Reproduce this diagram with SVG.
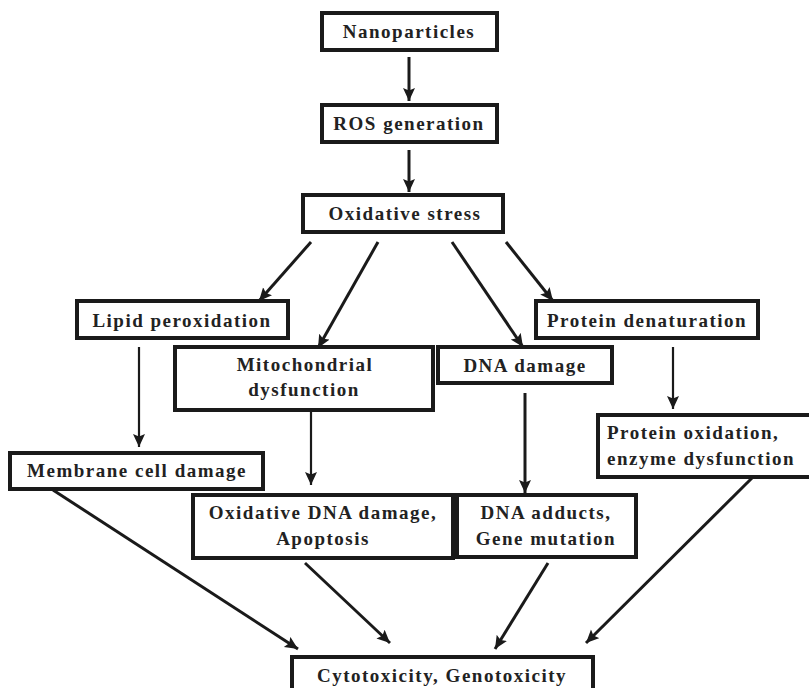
<svg xmlns="http://www.w3.org/2000/svg" width="809" height="688" viewBox="0 0 809 688">
<style>
.box{fill:#fff;stroke:#1a1a1a;stroke-width:4}
.t{font-family:"Liberation Serif","Times New Roman",serif;font-weight:bold;font-size:19px;letter-spacing:1.5px;fill:#222}
.c{text-anchor:middle}
.a{stroke:#1a1a1a;stroke-width:3;fill:none;marker-end:url(#ah)}
.v{stroke:#1a1a1a;stroke-width:2.2;fill:none;marker-end:url(#ah)}
</style>
<defs>
<marker id="ah" markerUnits="userSpaceOnUse" markerWidth="14" markerHeight="13" refX="13" refY="6" orient="auto">
<path d="M0,0 L13,6 L0,12 L2.5,6 z" fill="#1a1a1a"/>
</marker>
</defs>
<rect width="809" height="688" fill="#fff"/>
<g id="connectors">
<line class="a" x1="409" y1="57" x2="409" y2="101"/>
<line class="a" x1="409" y1="150" x2="409" y2="192"/>
<line class="a" x1="311" y1="242" x2="259" y2="301"/>
<line class="a" x1="378" y1="242" x2="318" y2="348"/>
<line class="a" x1="452" y1="242" x2="523" y2="347"/>
<line class="a" x1="506" y1="242" x2="553" y2="301"/>
<line class="v" x1="139" y1="347" x2="139" y2="447"/>
<line class="v" x1="673" y1="347" x2="673" y2="409"/>
<line class="v" x1="311" y1="397" x2="311" y2="485"/>
<line class="a" x1="525" y1="393" x2="525" y2="493"/>
<line class="a" x1="53" y1="490" x2="298" y2="649"/>
<line class="a" x1="305" y1="563" x2="390" y2="643"/>
<line class="a" x1="548" y1="563" x2="495" y2="649"/>
<line class="a" x1="752" y1="478" x2="586" y2="643"/>
</g>
<g id="nanoparticles"><rect class="box" x="322" y="13" width="175" height="37"/><text class="t c" x="409" y="38">Nanoparticles</text></g>
<g id="ros"><rect class="box" x="322" y="105" width="175" height="37"/><text class="t c" x="409" y="130">ROS generation</text></g>
<g id="oxidative"><rect class="box" x="303" y="195" width="200" height="37"/><text class="t c" x="405" y="220">Oxidative stress</text></g>
<g id="lipid"><rect class="box" x="77" y="301" width="211" height="37"/><text class="t c" x="182" y="327">Lipid peroxidation</text></g>
<g id="mito"><rect class="box" x="175" y="347" width="258" height="63"/><text class="t c" x="305" y="371">Mitochondrial</text><text class="t c" x="304" y="396">dysfunction</text></g>
<g id="dnadamage"><rect class="box" x="438" y="347" width="174" height="36"/><text class="t c" x="525" y="372">DNA damage</text></g>
<g id="proteinden"><rect class="box" x="536" y="301" width="222" height="37"/><text class="t c" x="647" y="327">Protein denaturation</text></g>
<g id="membrane"><rect class="box" x="10" y="453" width="253" height="36"/><text class="t c" x="137" y="477">Membrane cell damage</text></g>
<g id="proteinox"><rect class="box" x="598" y="415" width="215" height="62"/><text class="t" x="607" y="439">Protein oxidation,</text><text class="t" x="607" y="465">enzyme dysfunction</text></g>
<g id="oxdna"><rect class="box" x="193" y="495" width="260" height="63"/><text class="t c" x="323" y="519">Oxidative DNA damage,</text><text class="t c" x="323" y="545">Apoptosis</text></g>
<g id="adducts"><rect class="box" x="457" y="495" width="179" height="62"/><text class="t c" x="546" y="519">DNA adducts,</text><text class="t c" x="546" y="545">Gene mutation</text></g>
<g id="cyto"><rect class="box" x="292" y="657" width="301" height="45"/><text class="t c" x="442" y="682">Cytotoxicity, Genotoxicity</text></g>
</svg>
